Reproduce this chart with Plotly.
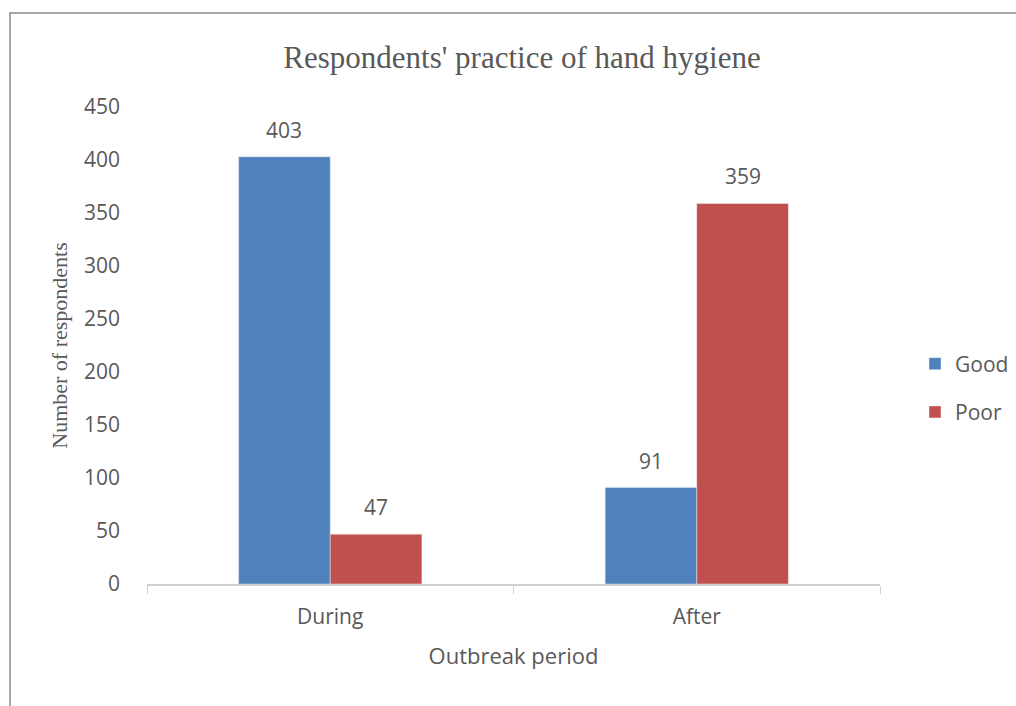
import plotly.graph_objects as go

# Survey counts of hand-hygiene practice by outbreak period
periods = ["During", "After"]
good = [403, 91]
poor = [47, 359]
y_ticks = [0, 50, 100, 150, 200, 250, 300, 350, 400, 450]

BLUE = "#4F81BD"
RED = "#C0504D"
TEXT = "#595959"
SANS = "Open Sans, DejaVu Sans, sans-serif"
SERIF = "Liberation Serif, Times New Roman, serif"

W, H = 1016, 706
L, R, T, B = 147, 136, 107, 122
PW, PH = W - L - R, H - T - B

fig = go.Figure()
fig.add_trace(go.Bar(name="Good", x=periods, y=good, marker_color=BLUE,
                     legendgroup="g", hoverinfo="x+y"))
fig.add_trace(go.Bar(name="Poor", x=periods, y=poor, marker_color=RED,
                     legendgroup="p", hoverinfo="x+y"))

# value labels above each bar (grouped bars sit half a bar-width off centre)
bar_px = 92
for vals, shift in ((good, -bar_px / 2), (poor, bar_px / 2)):
    for p, v in zip(periods, vals):
        fig.add_annotation(x=p, y=v, text=str(v), showarrow=False,
                           xshift=shift, yshift=27,
                           font=dict(family=SANS, size=21, color=TEXT))

# outer frame of the chart area (right and bottom edges run off the page)
fig.add_shape(type="rect", xref="paper", yref="paper",
              x0=(10 - L) / PW, x1=1.6, y0=-(B + 5) / PH, y1=1 + (T - 13) / PH,
              line=dict(color="#8C8C8C", width=1.5), layer="below")

fig.update_layout(
    width=W, height=H,
    margin=dict(l=L, r=R, t=T, b=B, autoexpand=False),
    paper_bgcolor="white", plot_bgcolor="white",
    barmode="group", bargap=0.5, bargroupgap=0,
    title=dict(text="Respondents' practice of hand hygiene",
               x=(522 - L) / PW, xref="paper", xanchor="center",
               y=1 - 57 / H, yanchor="middle",
               font=dict(family=SERIF, size=31, color=TEXT)),
    legend=dict(x=(915 - L) / PW, y=(584 - 388) / PH, xanchor="left", yanchor="middle",
                font=dict(family=SANS, size=21, color=TEXT),
                tracegroupgap=18, itemwidth=30, bgcolor="rgba(0,0,0,0)"),
    showlegend=True,
)
fig.update_xaxes(
    showline=True, linecolor="#D0D0D0", linewidth=1.5,
    ticks="outside", tickson="boundaries", ticklen=8, tickcolor="#D0D0D0",
    ticklabelstandoff=13,
    tickfont=dict(family=SANS, size=21, color=TEXT),
    title=dict(text="Outbreak period", standoff=20,
               font=dict(family=SANS, size=22, color=TEXT)),
    showgrid=False,
)
fig.update_yaxes(
    range=[0, 450], tickvals=y_ticks, showgrid=False, zeroline=False,
    showline=False, ticks="", ticklabelstandoff=26,
    tickfont=dict(family=SANS, size=21, color=TEXT),
    title=dict(text="Number of respondents", standoff=10,
               font=dict(family=SERIF, size=22, color=TEXT)),
)

fig.write_html("out.html")
